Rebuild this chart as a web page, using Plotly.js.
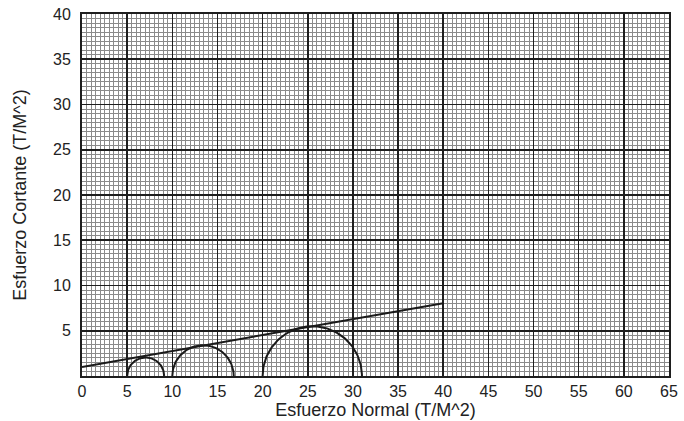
<!DOCTYPE html>
<html>
<head>
<meta charset="utf-8">
<script src="https://cdn.plot.ly/plotly-3.0.1.min.js"></script>
<style>html,body{margin:0;padding:0;background:#fff;}#chart{width:684px;height:421px;}</style>
</head>
<body>
<div id="chart"></div>
<script>
// Mohr circles: minor and major principal stresses (T/M^2)
const sigma3 = [5, 10, 20];
const sigma1 = [9.1, 16.8, 31];
// Failure envelope (cohesion 1, friction angle ~10 deg)
const envX = [0, 40];
const envY = [1, 8.05];
const xTicks = [0,5,10,15,20,25,30,35,40,45,50,55,60,65];
const yTicks = [5,10,15,20,25,30,35,40];

const traces = [];
for (let i = 0; i < sigma3.length; i++) {
  const c = (sigma1[i] + sigma3[i]) / 2;
  const r = (sigma1[i] - sigma3[i]) / 2;
  const xs = [], ys = [];
  for (let k = 0; k <= 90; k++) {
    const t = Math.PI * k / 90;
    xs.push(c - r * Math.cos(t));
    ys.push(r * Math.sin(t));
  }
  traces.push({x: xs, y: ys, mode: 'lines', line: {color: '#1a1a1a', width: 2}, hoverinfo: 'skip', showlegend: false});
}
traces.push({x: envX, y: envY, mode: 'lines', line: {color: '#1a1a1a', width: 2}, showlegend: false});

const fnt = {family: 'Liberation Sans, Arial, sans-serif', size: 16, color: '#222'};
const tfnt = {family: 'Liberation Sans, Arial, sans-serif', size: 18, color: '#222'};
const layout = {
  width: 684, height: 421,
  margin: {l: 82, r: 15, t: 14, b: 45},
  paper_bgcolor: '#ffffff', plot_bgcolor: '#ffffff',
  font: fnt,
  xaxis: {
    range: [0, 65], tickvals: xTicks, ticktext: xTicks.map(String),
    showgrid: true, gridcolor: '#1e1e1e', gridwidth: 1.6,
    minor: {dtick: 0.5, showgrid: true, gridcolor: '#8a8a8a', gridwidth: 1},
    showline: true, linecolor: '#1e1e1e', linewidth: 2, mirror: true,
    zeroline: false, ticks: '', tickfont: fnt,
    title: {text: 'Esfuerzo Normal (T/M^2)', font: tfnt, standoff: 0}
  },
  yaxis: {
    range: [0, 40], tickvals: yTicks, ticktext: yTicks.map(String),
    showgrid: true, gridcolor: '#1e1e1e', gridwidth: 1.6,
    minor: {dtick: 0.5, showgrid: true, gridcolor: '#8a8a8a', gridwidth: 1},
    showline: true, linecolor: '#1e1e1e', linewidth: 2, mirror: true,
    zeroline: false, ticks: '', tickfont: fnt, ticklabelstandoff: 6,
    title: {text: 'Esfuerzo Cortante (T/M^2)', font: tfnt, standoff: 22}
  }
};
Plotly.newPlot('chart', traces, layout, {staticPlot: true, displayModeBar: false});
</script>
</body>
</html>
